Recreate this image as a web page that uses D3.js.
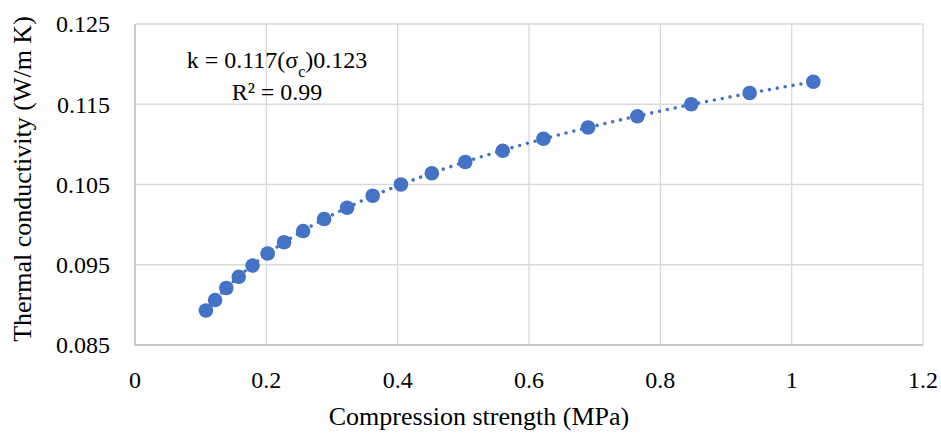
<!DOCTYPE html>
<html>
<head>
<meta charset="utf-8">
<script src="https://cdn.jsdelivr.net/npm/d3@7"></script>
<style>
  body { margin: 0; background: #fff; }
  svg { display: block; font-family: "Liberation Serif", "Times New Roman", serif; }
</style>
</head>
<body>
<div id="chart"></div>
<script>
// Data
const strength = [0.108, 0.122, 0.139, 0.158, 0.179, 0.202, 0.227, 0.256, 0.288, 0.323,
  0.362, 0.405, 0.452, 0.503, 0.560, 0.622, 0.690, 0.765, 0.847, 0.936, 1.033];
const conductivity = [0.0893, 0.0906, 0.0921, 0.0935, 0.0949, 0.0964, 0.0978, 0.0992, 0.1007, 0.1021,
  0.1036, 0.1050, 0.1064, 0.1078, 0.1092, 0.1107, 0.1121, 0.1135, 0.1150, 0.1164, 0.1178];
const xTicks = [0, 0.2, 0.4, 0.6, 0.8, 1, 1.2];
const yTicks = [0.085, 0.095, 0.105, 0.115, 0.125];

const data = strength.map((s, i) => ({ x: s, y: conductivity[i] }));

const margin = { top: 24, right: 18, bottom: 92, left: 135 };
const W = 941, H = 437;
const width = W - margin.left - margin.right;
const height = H - margin.top - margin.bottom;

const svg = d3.select("#chart").append("svg")
  .attr("width", W).attr("height", H);

const g = svg.append("g")
  .attr("transform", `translate(${margin.left},${margin.top})`);

const x = d3.scaleLinear().domain([0, 1.2]).range([0, width]);
const y = d3.scaleLinear().domain([0.085, 0.125]).range([height, 0]);

// gridlines
g.append("g").selectAll("line").data(yTicks).join("line")
  .attr("x1", 0).attr("x2", width)
  .attr("y1", d => y(d)).attr("y2", d => y(d))
  .attr("stroke", "#d9d9d9").attr("stroke-width", 1.3);
g.append("g").selectAll("line").data(xTicks).join("line")
  .attr("x1", d => x(d)).attr("x2", d => x(d))
  .attr("y1", 0).attr("y2", height)
  .attr("stroke", "#d9d9d9").attr("stroke-width", 1.3);

// axis lines
g.append("line").attr("x1", 0).attr("x2", 0).attr("y1", 0).attr("y2", height)
  .attr("stroke", "#bfbfbf").attr("stroke-width", 1.5);
g.append("line").attr("x1", 0).attr("x2", width).attr("y1", height).attr("y2", height)
  .attr("stroke", "#bfbfbf").attr("stroke-width", 1.5);

// tick labels
g.append("g").selectAll("text").data(xTicks).join("text")
  .attr("x", d => x(d)).attr("y", height + 43)
  .attr("text-anchor", "middle")
  .style("font-size", "24px").attr("fill", "#000")
  .text(d => d);
g.append("g").selectAll("text").data(yTicks).join("text")
  .attr("x", -25).attr("y", d => y(d)).attr("dy", "0.35em")
  .attr("text-anchor", "end")
  .style("font-size", "24px").attr("fill", "#000")
  .text(d => d3.format(".3f")(d));

// power trendline (least squares on log-log, as the spreadsheet does)
const lx = data.map(d => Math.log(d.x)), ly = data.map(d => Math.log(d.y));
const mx = d3.mean(lx), my = d3.mean(ly);
const b = d3.sum(lx, (v, i) => (v - mx) * (ly[i] - my)) / d3.sum(lx, v => (v - mx) * (v - mx));
const a = Math.exp(my - b * mx);
const [x0, x1] = d3.extent(strength);
const trend = d3.range(0, 101).map(i => {
  const t = x0 + (x1 - x0) * i / 100;
  return { x: t, y: a * Math.pow(t, b) };
});
g.append("path").datum(trend)
  .attr("fill", "none")
  .attr("stroke", "#4472c4")
  .attr("stroke-width", 3.6)
  .attr("stroke-linecap", "round")
  .attr("stroke-dasharray", "0,8")
  .attr("d", d3.line().x(d => x(d.x)).y(d => y(d.y)));

// markers
g.append("g").selectAll("circle").data(data).join("circle")
  .attr("cx", d => x(d.x)).attr("cy", d => y(d.y))
  .attr("r", 7.3)
  .attr("fill", "#4472c4");

// equation
const eq = g.append("text")
  .attr("x", 142).attr("y", 44)
  .attr("text-anchor", "middle")
  .style("font-size", "24px").attr("fill", "#000");
eq.append("tspan").text("k = 0.117(σ");
eq.append("tspan").attr("baseline-shift", "sub").style("font-size", "16px").text("c");
eq.append("tspan").text(")0.123");
g.append("text")
  .attr("x", 142).attr("y", 76)
  .attr("text-anchor", "middle")
  .style("font-size", "24px").attr("fill", "#000")
  .text("R² = 0.99");

// axis titles
svg.append("text")
  .attr("x", 479).attr("y", 425)
  .attr("text-anchor", "middle")
  .style("font-size", "26px").attr("fill", "#000")
  .text("Compression strength (MPa)");
svg.append("text")
  .attr("transform", "rotate(-90)")
  .attr("x", -179).attr("y", 31)
  .attr("text-anchor", "middle")
  .style("font-size", "26px").attr("fill", "#000")
  .text("Thermal conductivity (W/m K)");
</script>
</body>
</html>
